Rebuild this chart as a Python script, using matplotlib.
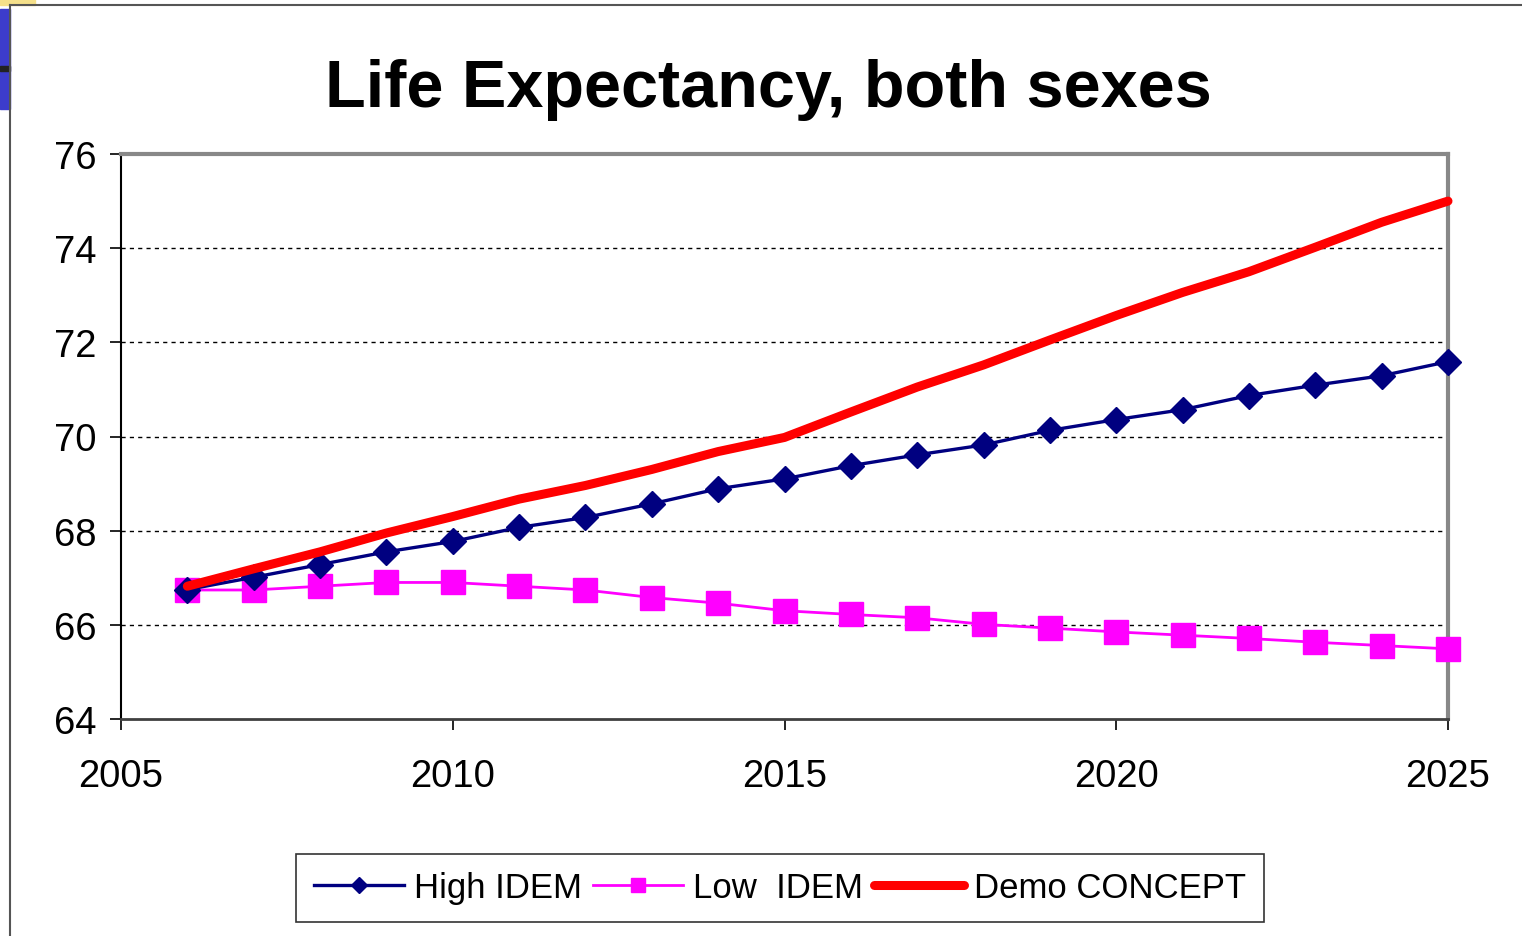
import numpy as np
import matplotlib.pyplot as plt
from matplotlib.patches import Rectangle
from matplotlib.lines import Line2D

years = list(range(2006, 2026))

high_idem = [66.75, 67.01, 67.28, 67.55, 67.77, 68.07, 68.28, 68.57, 68.89, 69.10,
             69.38, 69.61, 69.82, 70.13, 70.36, 70.57, 70.87, 71.09, 71.29, 71.59]
low_idem = [66.74, 66.74, 66.82, 66.90, 66.90, 66.82, 66.74, 66.58, 66.46, 66.30,
            66.22, 66.15, 66.01, 65.93, 65.85, 65.78, 65.71, 65.63, 65.56, 65.49]
demo_concept = [66.82, 67.19, 67.55, 67.95, 68.30, 68.67, 68.96, 69.30, 69.68, 69.98,
                70.52, 71.05, 71.52, 72.05, 72.57, 73.06, 73.50, 74.02, 74.55, 75.00]

series_labels = ['High IDEM', 'Low  IDEM', 'Demo CONCEPT']

plt.rcParams['font.family'] = ['Liberation Sans', 'DejaVu Sans']

fig = plt.figure(figsize=(15.22, 9.37), dpi=100)
ax = fig.add_axes([121 / 1522, 1 - 720 / 937, (1448 - 121) / 1522, (720 - 155) / 937])

# slide decorations
fig.patches.append(Rectangle((0, 1 - 110 / 937), 10 / 1522, 100 / 937,
                             transform=fig.transFigure, color='#3c3ccc', zorder=0))
fig.patches.append(Rectangle((0, 1 - 72 / 937), 10 / 1522, 5 / 937,
                             transform=fig.transFigure, color='#222222', zorder=1))
fig.patches.append(Rectangle((0, 1 - 6 / 937), 35 / 1522, 6 / 937,
                             transform=fig.transFigure, color='#f5e08a', zorder=0))
fig.lines.append(Line2D([10 / 1522, 10 / 1522], [0, 1 - 6 / 937],
                        transform=fig.transFigure, color='#555555', lw=1.5))
fig.lines.append(Line2D([10 / 1522, 1], [1 - 6 / 937, 1 - 6 / 937],
                        transform=fig.transFigure, color='#555555', lw=1.5))

ax.plot(years, high_idem, color='#000080', lw=2.4, marker='D', ms=13,
        label=series_labels[0], zorder=4, clip_on=False)
ax.plot(years, low_idem, color='#ff00ff', lw=2, marker='s', ms=17,
        label=series_labels[1], zorder=3, clip_on=False)
ax.plot(years, demo_concept, color='#ff0000', lw=6.5, solid_capstyle='round',
        label=series_labels[2], zorder=5, clip_on=False)

ax.set_xlim(2005, 2025)
ax.set_ylim(64, 76)
ax.set_xticks([2005, 2010, 2015, 2020, 2025])
ax.set_yticks([64, 66, 68, 70, 72, 74, 76])
ax.tick_params(labelsize=27.5, length=8, width=1.2, direction='out', pad=10)
ax.tick_params(axis='x', pad=20)

for y in [66, 68, 70, 72, 74]:
    ax.axhline(y, color='black', lw=1, linestyle=(0, (3, 3)), zorder=1)

ax.spines['left'].set_color('black')
ax.spines['left'].set_linewidth(1.5)
ax.spines['bottom'].set_color('#404040')
ax.spines['bottom'].set_linewidth(2)
ax.spines['top'].set_color('#888888')
ax.spines['top'].set_linewidth(3)
ax.spines['right'].set_color('#888888')
ax.spines['right'].set_linewidth(3)

fig.text(768 / 1522, 1 - 90 / 937, 'Life Expectancy, both sexes', ha='center', va='center',
         fontsize=48, fontweight='bold')

leg = ax.legend(loc='center', bbox_to_anchor=(780 / 1522, 1 - 889 / 937),
                bbox_transform=fig.transFigure, ncol=3, frameon=True, fancybox=False,
                edgecolor='black', markerscale=0.6, handlelength=2.6,
                handletextpad=0.3, columnspacing=0.3, borderpad=0.5,
                prop={'family': ['Liberation Sans', 'DejaVu Sans'], 'size': 25})
leg.get_frame().set_linewidth(1.2)

fig.savefig('out.png', dpi=100)
